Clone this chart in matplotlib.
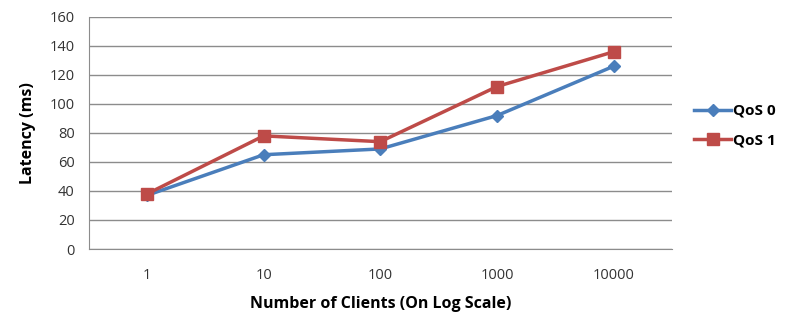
import matplotlib.pyplot as plt

clients = ["1", "10", "100", "1000", "10000"]
qos0 = [37, 65, 69, 92, 126]
qos1 = [38, 78, 74, 112, 136]

plt.rcParams['font.family'] = ['Open Sans', 'DejaVu Sans']

fig = plt.figure(figsize=(7.85, 3.14), dpi=100)
ax = fig.add_axes([0.113, 0.207, 0.743, 0.739])

x = range(len(clients))
ax.plot(x, qos0, color="#4A7EBB", lw=2.5, marker="D", ms=6, label="QoS 0", zorder=3)
ax.plot(x, qos1, color="#BE4B48", lw=2.5, marker="s", ms=8, label="QoS 1", zorder=3)

ax.set_xlim(-0.5, len(clients) - 0.5)
ax.set_ylim(0, 160)
ax.set_yticks(range(0, 161, 20))
ax.set_xticks(list(x))
ax.set_xticklabels(clients)
ax.grid(axis="y", color="#8c8c8c", lw=1)
ax.set_axisbelow(True)
ax.tick_params(length=0, labelsize=10.5, colors="#333333", pad=10)
ax.tick_params(axis="x", pad=14)
for s in ["top", "right"]:
    ax.spines[s].set_visible(False)
for s in ["left", "bottom"]:
    ax.spines[s].set_color("#8c8c8c")

ax.set_ylabel("Latency (ms)", fontsize=11.5, fontweight="bold", labelpad=10)
ax.set_xlabel("Number of Clients (On Log Scale)", fontsize=11.5, fontweight="bold", labelpad=9)

fig.legend(loc="center left", bbox_to_anchor=(0.867, 0.60), frameon=False,
           prop={"weight": "bold", "size": 11}, handlelength=2.4, handletextpad=0.1,
           labelspacing=1.0)

fig.savefig("out.png", dpi=100)
